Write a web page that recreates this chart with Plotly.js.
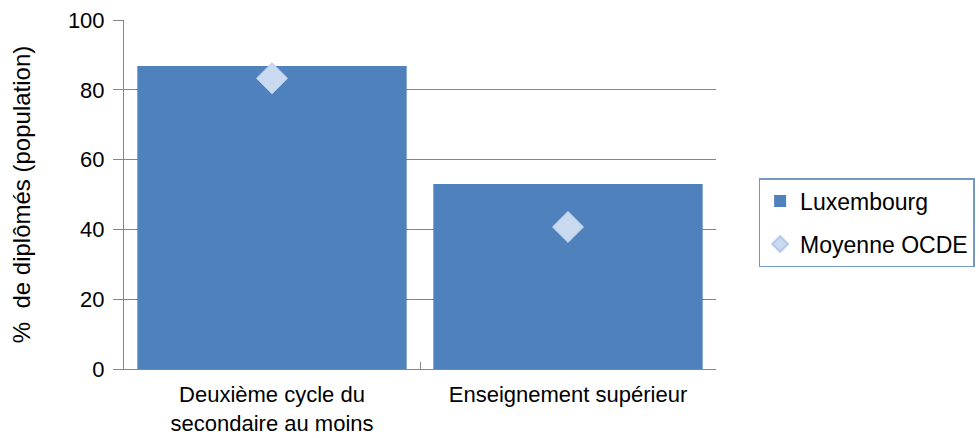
<!DOCTYPE html>
<html>
<head>
<meta charset="utf-8">
<script src="https://cdn.plot.ly/plotly-3.0.1.min.js"></script>
<style>html,body{margin:0;padding:0;background:#fff;}#chart{width:979px;height:438px;}</style>
</head>
<body>
<div id="chart"></div>
<script>
const categories = ["Deuxième cycle du<br>secondaire au moins", "Enseignement supérieur"];
const luxembourg = [86.8, 53.0];
const moyenneOCDE = [83.3, 40.7];
const yTicks = [0, 20, 40, 60, 80, 100];

const xIdx = categories.map((_, i) => i);
const fam = "Liberation Sans, Arial, sans-serif";
const tickFont = {family: fam, size: 22, color: "#000"};
const textFont = {family: fam, size: 24, color: "#000"};

const traces = [
  {type: "bar", x: xIdx, y: luxembourg, name: "Luxembourg",
   marker: {color: "#4F81BD"}, legendgroup: "a", hoverinfo: "none"},
  {type: "scatter", mode: "markers", x: xIdx, y: moyenneOCDE, name: "Moyenne OCDE",
   marker: {symbol: "diamond", size: 24, color: "#C9D9F0", line: {color: "#B4C9E8", width: 1}},
   legendgroup: "b", hoverinfo: "none"},
  {type: "scatter", mode: "markers", x: [-0.5, 0.5, 1.5], y: [0, 0, 0], xaxis: "x2",
   marker: {opacity: 0}, showlegend: false, hoverinfo: "none"}
];

const layout = {
  width: 979, height: 438,
  margin: {l: 124, r: 263, t: 20, b: 69, autoexpand: false},
  paper_bgcolor: "#fff", plot_bgcolor: "#fff",
  font: textFont,
  bargap: 0.09,
  showlegend: true,
  legend: {x: 1.072, y: 0.547, xanchor: "left", yanchor: "top",
           bordercolor: "#7396CB", borderwidth: 1.5, font: {family: fam, size: 23, color: "#000"},
           traceorder: "grouped", tracegroupgap: 10, itemwidth: 30, itemsizing: "constant"},
  xaxis: {range: [-0.5, 1.5], tickvals: xIdx, ticktext: categories, ticks: "",
          showgrid: false, zeroline: false, showline: true, linecolor: "#868686", linewidth: 1,
          tickfont: {family: fam, size: 22, color: "#000"}, ticklabelstandoff: 6, fixedrange: true},
  xaxis2: {overlaying: "x", range: [-0.5, 1.5], tickvals: [-0.5, 0.5, 1.5], ticks: "inside",
           ticklen: 7, tickcolor: "#868686", showticklabels: false, showgrid: false,
           zeroline: false, showline: false, anchor: "y"},
  yaxis: {range: [0, 100], tickvals: yTicks, ticks: "outside", ticklen: 10, tickcolor: "#868686",
          showgrid: true, gridcolor: "#868686", gridwidth: 1, zeroline: false,
          showline: true, linecolor: "#868686", linewidth: 1, tickfont: tickFont, ticklabelstandoff: 4,
          title: {text: "%  de diplômés (population)", font: textFont, standoff: 30}}
};

Plotly.newPlot("chart", traces, layout, {staticPlot: true, displayModeBar: false});
</script>
</body>
</html>
